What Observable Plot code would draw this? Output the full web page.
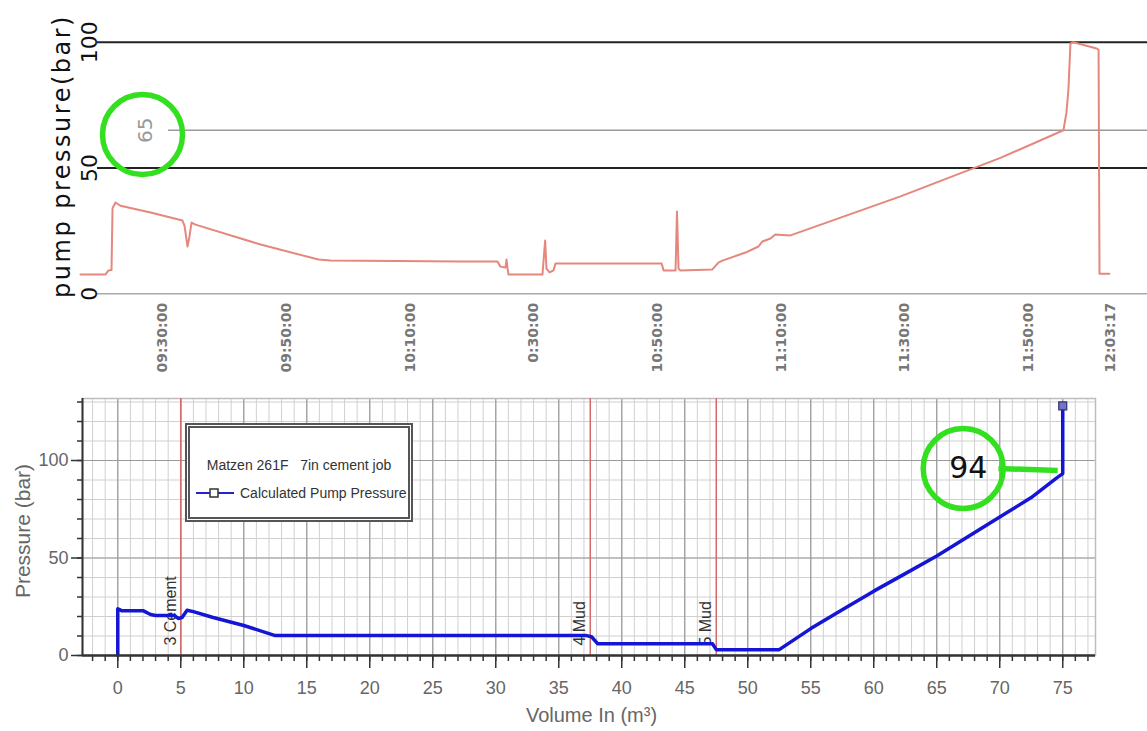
<!DOCTYPE html>
<html>
<head>
<meta charset="utf-8">
<script src="https://cdn.jsdelivr.net/npm/d3@7"></script>
<script src="https://cdn.jsdelivr.net/npm/@observablehq/plot@0.6"></script>
<style>
  html, body { margin: 0; padding: 0; background: #fff; }
  #wrap { position: relative; width: 1147px; height: 731px; background: #fff; overflow: hidden; }
  #top, #bottom { position: absolute; left: 0; }
  #top { top: 0; }
  #bottom { top: 380px; }
  #legend {
    position: absolute; left: 185px; top: 423px; width: 228px; height: 99px;
    box-sizing: border-box; border: 5px double #555; background: #fff;
    font-family: "Liberation Sans Narrow", "Liberation Sans", sans-serif; color: #333;
  }
  #legend .l1 { position: absolute; left: 0; right: 0; top: 29px; text-align: center; font-size: 14px; white-space: pre; }
  #legend .l2 { position: absolute; left: 6px; top: 57px; font-size: 14px; white-space: pre; display: flex; align-items: center; }
  #legend svg { margin-right: 6px; }
</style>
</head>
<body>
<div id="wrap">
  <div id="top"></div>
  <div id="bottom"></div>
  <div id="legend">
    <div class="l1">Matzen 261F   7in cement job</div>
    <div class="l2"><svg width="38" height="12"><line x1="0" y1="6" x2="38" y2="6" stroke="#2323c8" stroke-width="2"/><rect x="14" y="2" width="8" height="8" fill="#fff" stroke="#333" stroke-width="1.5"/></svg>Calculated Pump Pressure</div>
  </div>
</div>
<script>
// ---------- Top chart data (pump pressure vs time) ----------
const topTimes = ["09:16:39","09:20:42","09:21:11","09:21:40","09:21:50","09:22:19","09:23:07","09:27:59","09:33:09","09:33:29","09:33:58","09:34:17","09:34:37","09:35:15","09:45:47","09:55:10","09:57:06","10:18:08","10:24:07","10:24:36","10:25:25","10:25:35","10:25:45","10:25:54","10:31:24","10:31:50","10:32:03","10:32:32","10:33:11","10:33:30","10:50:41","10:51:00","10:52:56","10:53:10","10:53:25","10:53:44","10:58:54","10:59:52","11:00:31","11:04:15","11:06:21","11:06:59","11:08:17","11:09:05","11:11:32","11:29:20","11:45:30","11:55:42","11:56:11","11:56:30","11:56:50","11:57:19","12:01:04","12:01:23","12:01:32","12:03:08"];
const topPressure = [7.7,7.7,9.3,9.5,34,36.3,35,32.3,29.1,27,18.8,22.8,28.3,27.5,19.6,13.6,13.2,12.8,12.8,10.8,10.4,13.6,10,7.7,7.7,21.2,10,8.5,9.3,12,12,9.3,9.3,32.7,10,9.3,9.7,12.4,13.2,16.4,18.8,20.8,22,23.6,23.2,38.7,54,65,72,81,99.5,100,97.5,97,8,8];
const topTickTimes = ["09:30:00","09:50:00","10:10:00","10:30:00","10:50:00","11:10:00","11:30:00","11:50:00","12:03:17"];
const topTickLabels = ["09:30:00","09:50:00","10:10:00","0:30:00","10:50:00","11:10:00","11:30:00","11:50:00","12:03:17"];
const topYTicks = [0, 50, 100];
const topDomainTimes = ["09:19:24", "12:09:18"];
const topRefValue = [65];
const topRefStart = "09:30:53";
const topRefLabel = ["65"];
const topRefLabelTime = "09:27:10";
const topCircle = [{t: "09:26:41", p: 63.3}];

// ---------- Bottom chart data (calculated pump pressure vs volume) ----------
const volume = [0,0,0.3,2,2.6,3,4.5,4.8,5.1,5.5,6,7.5,10,12.5,37.2,37.6,38.1,47.2,47.5,52.5,55,57.5,60,62.5,65,67.5,70,72.5,73.5,74.5,75,75];
const calcPressure = [0,24,23,23,21,20.5,20.5,19,19.5,23.2,22.5,19.6,15.4,10.2,10.2,9.6,6,6,3,3,13.8,23.5,33,42,51,61,71,81,86,91,93.3,128];
const stageVolumes = [5, 37.5, 47.5];
const stageLabels = ["3 Cement", "4 Mud", "5 Mud"];
const xTicksMajor = d3.range(0, 76, 5);
const xTicksMinor = d3.range(-2, 78, 1);
const yTicksMajor = [0, 50, 100];
const yTicksMinor = d3.range(0, 131, 10);
const botXDomain = [-2.8, 77.6];
const botYDomain = [0, 131.8];
const calloutCircle = [{v: 67.1, p: 95.9}];
const calloutText = [{v: 67.5, p: 95.9, label: "94"}];
const calloutLink = [{v1: 69.9, p1: 95.9, v2: 74.6, p2: 94.9}];

const parseT = d3.utcParse("%H:%M:%S");
const fmtT = d3.utcFormat("%H:%M:%S");
const topData = topTimes.map((t, i) => ({t: parseT(t), p: topPressure[i]}));
const tickLabelMap = new Map(topTickTimes.map((t, i) => [t, topTickLabels[i]]));
const topDomain = topDomainTimes.map(parseT);
const green = "#33e01f";

const topPlot = Plot.plot({
  width: 1147, height: 380,
  marginLeft: 97, marginRight: 0, marginTop: 41.7, marginBottom: 86.7,
  style: {fontFamily: "DejaVu Sans, sans-serif", background: "transparent", overflow: "visible"},
  x: {type: "utc", domain: topDomain},
  y: {domain: [0, 100]},
  marks: [
    Plot.ruleY([0], {stroke: "#aaa", strokeWidth: 1.5}),
    Plot.ruleY(topRefValue, {x1: parseT(topRefStart), x2: topDomain[1], stroke: "#999", strokeWidth: 1.5}),
    Plot.ruleY([50, 100], {stroke: "#222", strokeWidth: 2}),
    Plot.line(topData, {x: "t", y: "p", stroke: "#e5877c", strokeWidth: 2}),
    Plot.axisX({ticks: topTickTimes.map(parseT), tickFormat: d => tickLabelMap.get(fmtT(d)), tickRotate: -90, tickSize: 0, tickPadding: 9, fontSize: 14, fontWeight: "bold", fill: "#777", label: null}),
    Plot.axisY({ticks: topYTicks, tickRotate: -90, tickSize: 0, tickPadding: 1, fontSize: 22, fill: "#111", label: null}),
    Plot.text(["pump pressure(bar)"], {frameAnchor: "left", textAnchor: "middle", rotate: -90, dx: -35, dy: -12, fontSize: 24, fill: "#111"}),
    Plot.text(topRefLabel, {x: () => parseT(topRefLabelTime), y: () => topRefValue[0], rotate: -90, fontSize: 20, fill: "#999"}),
    Plot.dot(topCircle, {x: d => parseT(d.t), y: "p", r: 40, stroke: green, strokeWidth: 5.5, fill: "none"})
  ]
});
d3.select(topPlot).selectAll("text").filter(function() { return this.textContent === "pump pressure(bar)"; }).attr("letter-spacing", "2.5px");
document.getElementById("top").appendChild(topPlot);

const botData = volume.map((v, i) => ({v, p: calcPressure[i]}));
const stages = stageVolumes.map((v, i) => ({v, label: stageLabels[i]}));
const narrow = "'Liberation Sans Narrow', 'Liberation Sans', Arial, sans-serif";

const botPlot = Plot.plot({
  width: 1147, height: 351,
  marginLeft: 82, marginRight: 52, marginTop: 18, marginBottom: 76,
  style: {fontFamily: narrow, background: "transparent", overflow: "visible"},
  x: {domain: botXDomain},
  y: {domain: botYDomain},
  marks: [
    Plot.ruleX(xTicksMinor, {stroke: "#d0d0d0", strokeWidth: 1}),
    Plot.ruleY(yTicksMinor, {stroke: "#d0d0d0", strokeWidth: 1}),
    Plot.ruleX(xTicksMajor, {stroke: "#9a9a9a", strokeWidth: 1.2}),
    Plot.ruleY([50, 100], {stroke: "#9a9a9a", strokeWidth: 1.2}),
    Plot.frame({stroke: "#bdbdbd", strokeWidth: 1.5}),
    Plot.ruleX(stages, {x: "v", stroke: "#d46a6a", strokeWidth: 1.5}),
    Plot.text(stages, {x: "v", y: () => 5.1, text: "label", rotate: -90, textAnchor: "start", dx: -10, fontSize: 16, fill: "#333"}),
    Plot.line(botData, {x: "v", y: "p", stroke: "#1515d6", strokeWidth: 3.5, strokeLinejoin: "round"}),
    Plot.dot(botData.slice(-1), {x: "v", y: "p", symbol: "square", r: 4.5, fill: "#7474c8", stroke: "#33336a", strokeWidth: 1.2}),
    Plot.ruleY([0], {stroke: "#333", strokeWidth: 2.5}),
    Plot.ruleX([botXDomain[0]], {stroke: "#333", strokeWidth: 2}),
    Plot.axisX({ticks: xTicksMinor, tickSize: 6, tickFormat: () => "", stroke: "#333", strokeWidth: 1.5, label: null}),
    Plot.axisX({ticks: xTicksMajor, tickSize: 13, tickPadding: 13, stroke: "#333", strokeWidth: 1.5, fontSize: 18, fill: "#666", label: null}),
    Plot.axisY({ticks: yTicksMinor, tickSize: 5, tickFormat: () => "", stroke: "#333", strokeWidth: 1.5, label: null}),
    Plot.axisY({ticks: yTicksMajor, tickSize: 11, tickPadding: 3, stroke: "#333", strokeWidth: 1.5, fontSize: 18, fill: "#666", label: null}),
    Plot.text(["Pressure (bar)"], {frameAnchor: "left", textAnchor: "middle", rotate: -90, dx: -59, dy: 4, fontSize: 21, fill: "#666", fontFamily: "'Liberation Sans', Arial, sans-serif"}),
    Plot.text(["Volume In (m³)"], {frameAnchor: "bottom", textAnchor: "middle", dx: 2.5, dy: 66, fontSize: 20, fill: "#666"}),
    Plot.dot(calloutCircle, {x: "v", y: "p", r: 40, stroke: green, strokeWidth: 5.5, fill: "none"}),
    Plot.link(calloutLink, {x1: "v1", y1: "p1", x2: "v2", y2: "p2", stroke: green, strokeWidth: 5.5}),
    Plot.text(calloutText, {x: "v", y: "p", text: "label", fontSize: 30, fill: "#111", fontFamily: "DejaVu Sans, sans-serif"})
  ]
});
document.getElementById("bottom").appendChild(botPlot);
</script>
</body>
</html>
